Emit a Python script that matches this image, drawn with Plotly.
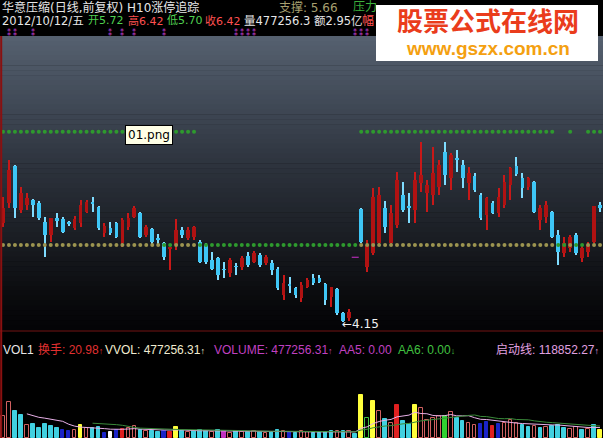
import plotly.graph_objects as go
import numpy as np
import pandas as pd

# ---------------- data ----------------
opens = [6.09, 6.48, 7.21, 6.35, 6.44, 6.54, 6.48, 6.11, 5.86, 6.19,
         6.17, 6.10, 5.99, 6.09, 6.31, 6.50, 6.41, 5.90, 5.99, 6.09,
         5.70, 6.01, 6.21, 6.29, 5.86, 5.97, 5.80, 5.70, 5.60, 5.66,
         5.95, 5.80, 5.82, 5.72, 5.66, 5.37, 5.41, 5.18, 5.11, 5.24,
         5.23, 5.44, 5.33, 5.46, 5.31, 5.31, 5.19, 4.68, 4.87, 4.82,
         4.62, 4.84, 5.01, 5.01, 4.90, 4.64, 4.80, 4.33, 4.23, None,
         6.37, 5.23, 5.50, 5.70, 6.39, 5.70, 6.05, 6.64, 6.42, 6.35,
         6.88, 6.68, 6.64, 6.80, 7.48, 6.97, 7.36, 7.23, 6.88, 7.01,
         6.64, 6.25, 6.48, 6.29, 6.44, 6.84, 7.21, 6.97, 6.80, 6.90,
         6.15, 6.21, 6.31, 5.86, 5.50, 5.60, 5.86, 5.41, 5.52, 5.72,
         6.45]
highs = [6.60, 7.33, 7.23, 6.80, 6.68, 6.56, 6.52, 6.21, 6.19, 6.29,
         6.21, 6.13, 6.23, 6.54, 6.54, 6.60, 6.42, 6.09, 6.11, 6.11,
         6.19, 6.29, 6.42, 6.30, 6.05, 5.99, 5.88, 5.72, 5.61, 6.17,
         6.01, 6.01, 6.03, 5.76, 5.70, 5.52, 5.42, 5.33, 5.41, 5.31,
         5.44, 5.52, 5.54, 5.50, 5.46, 5.37, 5.23, 5.07, 5.03, 4.84,
         4.93, 5.01, 5.09, 5.07, 4.91, 4.84, 4.82, 4.35, 4.41, None,
         6.39, 5.76, 6.78, 6.80, 6.52, 6.44, 7.09, 6.90, 6.68, 7.09,
         7.68, 6.93, 7.58, 7.33, 7.68, 7.46, 7.52, 7.33, 7.19, 7.07,
         6.68, 6.60, 6.52, 6.78, 7.03, 7.19, 7.39, 7.07, 7.00, 6.91,
         6.44, 6.52, 6.32, 5.95, 5.82, 5.86, 5.90, 5.66, 5.72, 6.42,
         6.50]
lows = [6.01, 6.39, 6.19, 6.29, 6.35, 6.21, 6.15, 5.42, 5.72, 6.01,
        5.90, 6.03, 5.95, 6.01, 6.29, 6.31, 5.95, 5.82, 5.86, 5.80,
        5.62, 5.95, 6.19, 5.80, 5.82, 5.66, 5.66, 5.37, 5.17, 5.56,
        5.80, 5.76, 5.76, 5.31, 5.29, 5.17, 4.97, 5.01, 5.03, 5.07,
        5.17, 5.23, 5.31, 5.23, 5.27, 5.07, 4.78, 4.58, 4.72, 4.62,
        4.54, 4.82, 4.88, 4.91, 4.48, 4.44, 4.29, 4.15, 4.17, None,
        5.70, 5.13, 5.46, 5.66, 5.90, 5.66, 5.99, 6.31, 6.09, 6.09,
        6.70, 6.31, 6.44, 6.64, 6.84, 6.74, 7.09, 6.78, 6.54, 6.70,
        6.15, 5.95, 6.27, 6.21, 6.39, 6.54, 7.01, 6.58, 6.74, 6.29,
        5.95, 6.09, 5.80, 5.27, 5.42, 5.52, 5.46, 5.33, 5.42, 5.70,
        6.30]
closes = [6.39, 7.13, 6.39, 6.68, 6.58, 6.44, 6.19, 5.86, 6.19, 6.13,
          5.91, 6.09, 6.17, 6.44, 6.50, 6.46, 5.99, 6.03, 5.90, 5.82,
          6.15, 6.19, 6.39, 5.82, 6.01, 5.72, 5.76, 5.42, 5.61, 5.95,
          5.86, 5.95, 6.01, 5.33, 5.33, 5.19, 5.07, 5.17, 5.37, 5.23,
          5.41, 5.27, 5.50, 5.27, 5.42, 5.17, 4.82, 4.91, 4.86, 4.68,
          4.88, 4.97, 4.91, 4.93, 4.58, 4.84, 4.33, 4.17, 4.35, None,
          5.72, 5.66, 6.60, 6.64, 6.01, 6.29, 6.93, 6.35, 6.40, 6.93,
          7.03, 6.84, 7.07, 7.23, 7.03, 7.42, 7.34, 6.97, 7.07, 6.74,
          6.19, 6.58, 6.29, 6.60, 6.90, 7.17, 7.05, 6.78, 6.97, 6.31,
          6.39, 6.44, 5.82, 5.52, 5.70, 5.82, 5.50, 5.60, 5.66, 6.42,
          6.38]
volumes = [807000, 1321000, 990000, 844000, 477000, 514000, 367000, 514000, 440000, 367000,
           294000, 257000, 294000, 477000, 367000, 367000, 404000, 184000, 220000, 294000,
           330000, 367000, 440000, 294000, 257000, 257000, 220000, 257000, 220000, 404000,
           250000, 230000, 270000, 300000, 260000, 220000, 280000, 240000, 200000, 260000,
           230000, 210000, 250000, 220000, 200000, 230000, 280000, 260000, 220000, 200000,
           240000, 210000, 190000, 200000, 230000, 250000, 270000, 240000, 260000, 150000,
           1578000, 734000, 1358000, 990000, 697000, 550000, 1211000, 624000, 514000, 1211000,
           1100000, 660000, 734000, 807000, 807000, 954000, 734000, 624000, 550000, 477000,
           514000, 587000, 440000, 514000, 550000, 660000, 550000, 477000, 404000, 440000,
           367000, 404000, 440000, 477000, 367000, 330000, 404000, 294000, 330000, 477256,
           300000]
# volume signal class per day: u=up, d=down, b=shrink, y=surge, g=green, h=green hollow, r=red, w=white, m=magenta
vol_kind = ("uudduddddd" "bbuyuddbwb" "ruududdbry" "dudddudmud"
            "udududdubd" "uuddddudud" "yhyudurddy" "uuuugudduu"
            "bbrbuuuddu" "duddduudud" "y")
# 1 = pressure mode (pressure line shown, support drawn olive); 0 = support only (green)
pressure_state = ([1] * 27 + [0] * 2 + [1] * 4 + [0] * 27 + [1] * 33 +
                  [0] * 2 + [1] * 1 + [0] * 2 + [1] * 3)
# days carrying a signal mark in the title strip
signal_days = [1, 2, 5, 18, 20, 22, 27, 39, 40, 41, 42, 59, 60, 61]
support_level = 5.66
pressure_level = 7.88
low_mark = 4.15
resume_mark_idx = 59
resume_mark_price = 5.42

n = len(opens)
idx = list(range(n))

W, H = 603, 438

def py(px):
    return 1 - px / H

fig = go.Figure()

# ---------------- candles ----------------
up_x, up_b, up_h, dn_x, dn_b, dn_h = [], [], [], [], [], []
wu_x, wu_b, wu_h, wd_x, wd_b, wd_h = [], [], [], [], [], []
for i in idx:
    o, h, l, c = opens[i], highs[i], lows[i], closes[i]
    if o is None:
        continue
    body = max(abs(c - o), 0.018)
    if c >= o:
        up_x.append(i); up_b.append(min(o, c)); up_h.append(body)
        wu_x.append(i); wu_b.append(l); wu_h.append(h - l)
    else:
        dn_x.append(i); dn_b.append(min(o, c)); dn_h.append(body)
        wd_x.append(i); wd_b.append(l); wd_h.append(h - l)

UP = "#b01212"
DN = "#3ec6f6"
fig.add_trace(go.Bar(x=wu_x, y=wu_h, base=wu_b, width=0.17, marker_color="#c81818",
                     marker_line_width=0, xaxis="x", yaxis="y", hoverinfo="skip"))
fig.add_trace(go.Bar(x=wd_x, y=wd_h, base=wd_b, width=0.17, marker_color="#7fdcff",
                     marker_line_width=0, xaxis="x", yaxis="y", hoverinfo="skip"))
fig.add_trace(go.Bar(x=up_x, y=up_h, base=up_b, width=0.62, marker_color=UP,
                     marker_line_width=0, xaxis="x", yaxis="y", hoverinfo="skip"))
fig.add_trace(go.Bar(x=dn_x, y=dn_h, base=dn_b, width=0.62, marker_color=DN,
                     marker_line_width=0, xaxis="x", yaxis="y", hoverinfo="skip"))

# ---------------- dotted support / pressure ----------------
sup_col = ["#9c9450" if s else "#2e9a2e" for s in pressure_state]
fig.add_trace(go.Scatter(x=idx, y=[support_level] * n, mode="markers",
                         marker=dict(size=4, color=sup_col), xaxis="x", yaxis="y",
                         hoverinfo="skip"))
px_i = [i for i in idx if pressure_state[i]]
fig.add_trace(go.Scatter(x=px_i, y=[pressure_level] * len(px_i), mode="markers",
                         marker=dict(size=4, color="#2e9a2e"), xaxis="x", yaxis="y",
                         hoverinfo="skip"))
fig.add_trace(go.Scatter(x=[resume_mark_idx], y=[resume_mark_price], mode="markers",
                         marker=dict(symbol="line-ew", size=5, line=dict(color="#d030d0", width=1)),
                         xaxis="x", yaxis="y", hoverinfo="skip"))

# ---------------- volume ----------------
kind_style = {
    "u": ("#000000", "#d06060"),
    "d": ("#40d0e0", "#40d0e0"),
    "b": ("#1a24c8", "#1a24c8"),
    "y": ("#ffff3c", "#ffff3c"),
    "g": ("#30d030", "#30d030"),
    "h": ("#000000", "#40c040"),
    "r": ("#e02020", "#e02020"),
    "w": ("#ffffff", "#ffffff"),
    "m": ("#c030c0", "#c030c0"),
}
for k, (fc, lc) in kind_style.items():
    xs = [i for i in idx if vol_kind[i] == k]
    if not xs:
        continue
    fig.add_trace(go.Bar(x=xs, y=[volumes[i] for i in xs], width=0.6,
                         marker=dict(color=fc, line=dict(color=lc, width=1)),
                         xaxis="x2", yaxis="y2", hoverinfo="skip"))

vs = pd.Series(volumes, dtype=float)
ma_a = vs.rolling(10, min_periods=5).mean()
ma_b = vs.rolling(20, min_periods=16).mean()
fig.add_trace(go.Scatter(x=idx, y=ma_a, mode="lines", line=dict(color="#e8b0e8", width=1),
                         xaxis="x2", yaxis="y2", hoverinfo="skip"))
fig.add_trace(go.Scatter(x=idx, y=ma_b, mode="lines", line=dict(color="#3a8a3a", width=1),
                         xaxis="x2", yaxis="y2", hoverinfo="skip"))

# ---------------- background gradient ----------------
shapes = []
stops = [(36, (86, 97, 112)), (100, (66, 75, 88)), (170, (44, 50, 60)),
         (240, (26, 29, 35)), (290, (12, 13, 16)), (330, (4, 4, 6))]
N = 60
for k in range(N):
    y0 = 36 + (330 - 36) * k / N
    y1 = 36 + (330 - 36) * (k + 1) / N
    ym = (y0 + y1) / 2
    for j in range(len(stops) - 1):
        if stops[j][0] <= ym <= stops[j + 1][0]:
            t = (ym - stops[j][0]) / (stops[j + 1][0] - stops[j][0])
            col = tuple(int(stops[j][1][m] + (stops[j + 1][1][m] - stops[j][1][m]) * t) for m in range(3))
            break
    shapes.append(dict(type="rect", xref="paper", yref="paper", x0=0, x1=1,
                       y0=py(y1) - 0.001, y1=py(y0), fillcolor="rgb(%d,%d,%d)" % col,
                       line=dict(width=0), layer="below"))
shapes.append(dict(type="line", xref="paper", yref="paper", x0=0, x1=1, y0=py(331), y1=py(331),
                   line=dict(color="#3a0a0a", width=2), layer="above"))
shapes.append(dict(type="line", xref="paper", yref="paper", x0=0.002, x1=0.002, y0=0, y1=py(36),
                   line=dict(color="#8a1010", width=2), layer="above"))

# ---------------- texts ----------------
HF = "DejaVu Sans, Noto Sans CJK SC"
VF = "Liberation Sans, Noto Sans CJK SC"
ann = []

def txt(x, y, s, color, size=12, xanchor="left", family=HF):
    ann.append(dict(xref="paper", yref="paper", x=x / W, y=py(y), text=s, showarrow=False,
                    xanchor=xanchor, yanchor="middle", borderpad=0,
                    font=dict(family=family, size=size, color=color)))

txt(1, 7, "华意压缩(日线,前复权) H10涨停追踪", "#e6e6e6")
txt(278, 7, "支撑: 5.66", "#a8a070")
txt(352, 7, "压力", "#3cb03c")
txt(1, 21, "2012/10/12/五", "#e6e6e6", size=11.5)
txt(87, 21, "开5.72", "#50d050", size=11)
txt(127, 21, "高6.42", "#ff5050", size=11)
txt(166, 21, "低5.70", "#50d050", size=11)
txt(204, 21, "收6.42", "#ff5050", size=11)
txt(243, 21, "量477256.3", "#e6e6e6", size=11.5)
txt(313, 21, "额2.95亿", "#e6e6e6", size=11.5)
txt(361, 21, "幅", "#ff5050")

for d in signal_days:
    ann.append(dict(xref="x", yref="paper", x=d, y=py(33), text="⁑", showarrow=False,
                    xanchor="center", yanchor="middle", borderpad=0,
                    font=dict(family="DejaVu Sans", size=8, color="#c040d0")))

# volume header
ARW = "<span style='font-size:9px'>↑</span>"
txt(2, 350, "VOL1", "#e6e6e6", family=VF)
txt(37, 350, "换手: 20.98" + ARW, "#e03030", family=VF)
txt(104, 350, "VVOL: 477256.31" + ARW, "#f0ecd0", family=VF)
txt(213, 350, "VOLUME: 477256.31" + ARW, "#c040c0", family=VF)
txt(338, 350, "AA5: 0.00", "#c040c0", family=VF)
txt(397, 350, "AA6: 0.00<span style='font-size:9px'>↓</span>", "#40c040", family=VF)
txt(495, 350, "启动线: 118852.27" + ARW, "#e0a0e0", family=VF)

# low marker
ann.append(dict(xref="x", yref="y", x=57 - 0.4, y=low_mark - 0.03, text="←4.15", showarrow=False,
                xanchor="left", yanchor="middle", borderpad=0,
                font=dict(family="DejaVu Sans", size=12, color="#f0f0f0")))

# tooltip
ann.append(dict(xref="paper", yref="paper", x=149 / W, y=py(135), text="01.png", showarrow=False,
                xanchor="center", yanchor="middle", bgcolor="#ffffe6", bordercolor="#000000",
                borderwidth=1, borderpad=2, font=dict(family="DejaVu Sans", size=12, color="#000000")))

# watermark box
ann.append(dict(xref="paper", yref="paper", x=376 / W, y=py(5), text=" ", showarrow=False,
                xanchor="left", yanchor="top", width=222, height=56, bgcolor="#ffffff",
                borderpad=0, borderwidth=0))
ann.append(dict(xref="paper", yref="paper", x=488 / W, y=py(19), text="<b>股票公式在线网</b>",
                showarrow=False, xanchor="center", yanchor="middle", borderpad=0,
                font=dict(family="Noto Sans CJK SC", size=26, color="#ea3c1c")))
ann.append(dict(xref="paper", yref="paper", x=488 / W, y=py(48), text="<b>www.gszx.com.cn</b>",
                showarrow=False, xanchor="center", yanchor="middle", borderpad=0,
                font=dict(family="Liberation Sans", size=19, color="#f4a010")))

main_hi = support_level + (245 - 36) / 51.0
main_lo = support_level - (330 - 245) / 51.0

fig.update_layout(
    width=W, height=H, margin=dict(l=0, r=0, t=0, b=0),
    paper_bgcolor="#000000", plot_bgcolor="rgba(0,0,0,0)",
    showlegend=False, barmode="overlay", bargap=0,
    shapes=shapes, annotations=ann,
    xaxis=dict(domain=[0, 1], range=[-0.5, n - 0.5], visible=False, fixedrange=True),
    xaxis2=dict(domain=[0, 1], range=[-0.5, n - 0.5], visible=False, anchor="y2", matches="x"),
    yaxis=dict(domain=[py(330), py(36)], range=[main_lo, main_hi], visible=False),
    yaxis2=dict(domain=[0, py(340)], range=[0, 3.6e6], visible=False, anchor="x2"),
)
fig.write_html("out.html", config={"displayModeBar": False},
               post_script="document.body.style.margin='0';document.body.style.overflow='hidden';")
